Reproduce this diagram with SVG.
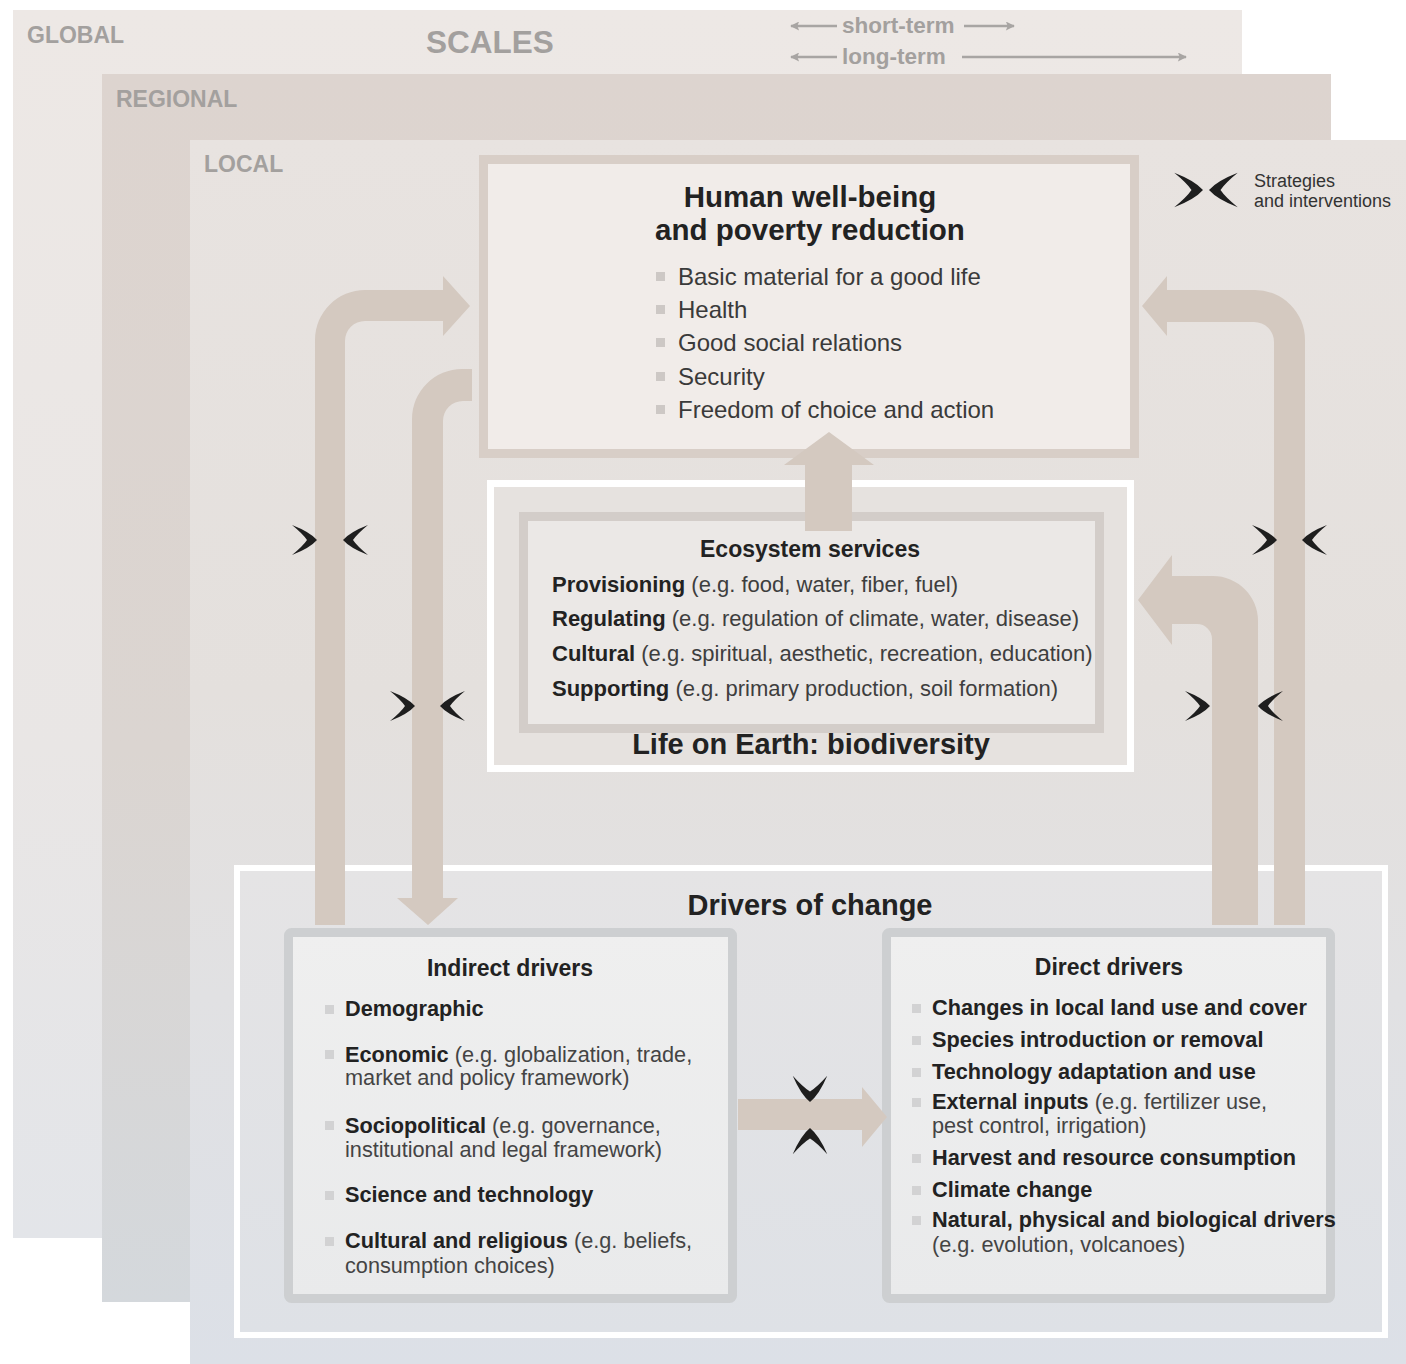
<svg xmlns="http://www.w3.org/2000/svg" width="1406" height="1364" viewBox="0 0 1406 1364">
<defs>
  <linearGradient id="gGlobal" x1="0" y1="0" x2="0" y2="1">
    <stop offset="0" stop-color="#ede8e5"/>
    <stop offset="0.6" stop-color="#e9e6e5"/>
    <stop offset="1" stop-color="#e3e5e9"/>
  </linearGradient>
  <linearGradient id="gRegional" x1="0" y1="0" x2="0" y2="1">
    <stop offset="0" stop-color="#ddd4cf"/>
    <stop offset="0.55" stop-color="#dbd5d1"/>
    <stop offset="1" stop-color="#d4d8dc"/>
  </linearGradient>
  <linearGradient id="gLocal" x1="0" y1="0" x2="0" y2="1">
    <stop offset="0" stop-color="#e8e3e0"/>
    <stop offset="0.45" stop-color="#e4e0dd"/>
    <stop offset="0.7" stop-color="#e1e1e3"/>
    <stop offset="1" stop-color="#dce0e7"/>
  </linearGradient>
  <linearGradient id="gDrivers" x1="0" y1="0" x2="0" y2="1">
    <stop offset="0" stop-color="#e5e4e5"/>
    <stop offset="1" stop-color="#dee1e6"/>
  </linearGradient>
  <linearGradient id="gBox" x1="0" y1="0" x2="0" y2="1">
    <stop offset="0" stop-color="#efefef"/>
    <stop offset="1" stop-color="#e9eaeb"/>
  </linearGradient>
  <path id="chev" d="M -25,-15 Q -7,-8 0,0 Q -7,8 -25,15 Q -14,6 -10,0 Q -14,-6 -25,-15 Z"/>
  <marker id="tip" viewBox="0 0 10 10" refX="9" refY="5" markerWidth="14" markerHeight="9" markerUnits="userSpaceOnUse" orient="auto-start-reverse">
    <path d="M0,0 L10,5 L0,10 L2,5 Z" fill="#a8a5a3"/>
  </marker>
</defs>
<style>
  text { font-family: "Liberation Sans", Arial, sans-serif; }
  .lab { font-weight: bold; fill: #a3a09e; font-size: 23px; }
  .t1 { font-size: 29px; font-weight: bold; fill: #222; text-anchor: middle; }
  .t2 { font-size: 23px; font-weight: bold; fill: #222; text-anchor: middle; }
  .wb { font-size: 24px; fill: #3a3a3a; }
  .es { font-size: 22px; fill: #3e3e3e; }
  .dr { font-size: 21.7px; fill: #444; }
  .b { font-weight: bold; fill: #222; }
  .bulw { fill: #cdc8c5; }
  .buld { fill: #d2d2d3; }
  .arrow { fill: #d4c9c0; }
  .chev { fill: #1e1e1e; }
  .tl { stroke: #a8a5a3; stroke-width: 2.5; fill: none; }
</style>

<g id="scales">
  <rect x="13" y="10" width="1229" height="1228" fill="url(#gGlobal)"/>
  <rect x="102" y="74" width="1229" height="1228" fill="url(#gRegional)"/>
  <rect x="190" y="140" width="1216" height="1224" fill="url(#gLocal)"/>
  <text class="lab" x="27" y="43">GLOBAL</text>
  <text class="lab" x="116" y="107">REGIONAL</text>
  <text class="lab" x="204" y="172">LOCAL</text>
  <text class="lab" x="426" y="53" style="font-size:31.5px">SCALES</text>
</g>

<g id="time-legend">
  <line class="tl" x1="837" y1="26" x2="791" y2="26" marker-end="url(#tip)"/>
  <text class="lab" x="842" y="33" style="font-size:22.5px">short-term</text>
  <line class="tl" x1="964" y1="26" x2="1014" y2="26" marker-end="url(#tip)"/>
  <line class="tl" x1="837" y1="57" x2="791" y2="57" marker-end="url(#tip)"/>
  <text class="lab" x="842" y="64" style="font-size:22.5px">long-term</text>
  <line class="tl" x1="962" y1="57" x2="1186" y2="57" marker-end="url(#tip)"/>
</g>

<g id="legend-strategies">
  <use href="#chev" class="chev" transform="translate(1203,190) scale(1.15)"/>
  <use href="#chev" class="chev" transform="translate(1209,190) scale(-1.15,1.15)"/>
  <text x="1254" y="187" style="font-size:18px" fill="#333">Strategies</text>
  <text x="1254" y="207" style="font-size:18px" fill="#333">and interventions</text>
</g>

<g id="node-wellbeing">
  <rect x="483.5" y="159.5" width="651" height="294" fill="#f1ece9" stroke="#d8cec7" stroke-width="9"/>
  <text class="t1" x="810" y="207" style="font-size:29.5px">Human well-being</text>
  <text class="t1" x="810" y="240" style="font-size:29.5px">and poverty reduction</text>
  <rect class="bulw" x="656" y="272" width="9" height="9"/>
  <text class="wb" x="678" y="285">Basic material for a good life</text>
  <rect class="bulw" x="656" y="305" width="9" height="9"/>
  <text class="wb" x="678" y="318">Health</text>
  <rect class="bulw" x="656" y="338" width="9" height="9"/>
  <text class="wb" x="678" y="351">Good social relations</text>
  <rect class="bulw" x="656" y="372" width="9" height="9"/>
  <text class="wb" x="678" y="385">Security</text>
  <rect class="bulw" x="656" y="405" width="9" height="9"/>
  <text class="wb" x="678" y="418">Freedom of choice and action</text>
</g>

<g id="node-biodiversity">
  <rect x="490.5" y="483.5" width="640" height="285" fill="#e6e2df" stroke="#ffffff" stroke-width="7"/>
  <text class="t1" x="811" y="754">Life on Earth: biodiversity</text>
</g>

<g id="node-ecosystem">
  <rect x="523.5" y="516.5" width="576" height="212" fill="#ebe8e6" stroke="#d3cdc9" stroke-width="9"/>
  <text class="t2" x="810" y="557">Ecosystem services</text>
  <text class="es" x="552" y="592"><tspan class="b">Provisioning</tspan> (e.g. food, water, fiber, fuel)</text>
  <text class="es" x="552" y="626"><tspan class="b">Regulating</tspan> (e.g. regulation of climate, water, disease)</text>
  <text class="es" x="552" y="661"><tspan class="b">Cultural</tspan> (e.g. spiritual, aesthetic, recreation, education)</text>
  <text class="es" x="552" y="696"><tspan class="b">Supporting</tspan> (e.g. primary production, soil formation)</text>
</g>

<g id="node-drivers">
  <rect x="237" y="868" width="1148" height="467" fill="url(#gDrivers)" stroke="#ffffff" stroke-width="6"/>
  <text class="t1" x="810" y="915">Drivers of change</text>
</g>

<g id="node-indirect">
  <rect x="288.5" y="932.5" width="444" height="366" rx="3" fill="url(#gBox)" stroke="#cdcfd1" stroke-width="9"/>
  <text class="t2" x="510" y="976">Indirect drivers</text>
  <rect class="buld" x="325" y="1005" width="9" height="9"/>
  <text class="dr" x="345" y="1016"><tspan class="b">Demographic</tspan></text>
  <rect class="buld" x="325" y="1050" width="9" height="9"/>
  <text class="dr" x="345" y="1062"><tspan class="b">Economic</tspan> (e.g. globalization, trade,</text>
  <text class="dr" x="345" y="1085">market and policy framework)</text>
  <rect class="buld" x="325" y="1121" width="9" height="9"/>
  <text class="dr" x="345" y="1133"><tspan class="b">Sociopolitical</tspan> (e.g. governance,</text>
  <text class="dr" x="345" y="1157">institutional and legal framework)</text>
  <rect class="buld" x="325" y="1191" width="9" height="9"/>
  <text class="dr" x="345" y="1202"><tspan class="b">Science and technology</tspan></text>
  <rect class="buld" x="325" y="1237" width="9" height="9"/>
  <text class="dr" x="345" y="1248"><tspan class="b">Cultural and religious</tspan> (e.g. beliefs,</text>
  <text class="dr" x="345" y="1273">consumption choices)</text>
</g>

<g id="node-direct">
  <rect x="886.5" y="932.5" width="444" height="366" rx="3" fill="url(#gBox)" stroke="#cdcfd1" stroke-width="9"/>
  <text class="t2" x="1109" y="975">Direct drivers</text>
  <rect class="buld" x="912" y="1004" width="9" height="9"/>
  <text class="dr" x="932" y="1015"><tspan class="b">Changes in local land use and cover</tspan></text>
  <rect class="buld" x="912" y="1036" width="9" height="9"/>
  <text class="dr" x="932" y="1047"><tspan class="b">Species introduction or removal</tspan></text>
  <rect class="buld" x="912" y="1068" width="9" height="9"/>
  <text class="dr" x="932" y="1079"><tspan class="b">Technology adaptation and use</tspan></text>
  <rect class="buld" x="912" y="1098" width="9" height="9"/>
  <text class="dr" x="932" y="1109"><tspan class="b">External inputs</tspan> (e.g. fertilizer use,</text>
  <text class="dr" x="932" y="1133">pest control, irrigation)</text>
  <rect class="buld" x="912" y="1154" width="9" height="9"/>
  <text class="dr" x="932" y="1165"><tspan class="b">Harvest and resource consumption</tspan></text>
  <rect class="buld" x="912" y="1186" width="9" height="9"/>
  <text class="dr" x="932" y="1197"><tspan class="b">Climate change</tspan></text>
  <rect class="buld" x="912" y="1216" width="9" height="9"/>
  <text class="dr" x="932" y="1227"><tspan class="b">Natural, physical and biological drivers</tspan></text>
  <text class="dr" x="932" y="1252">(e.g. evolution, volcanoes)</text>
</g>

<g id="connectors">
  <path class="arrow" d="M 315,925 L 315,340 A 50 50 0 0 1 365,290 L 443,290 L 443,276 L 470,306 L 443,336 L 443,321 L 365,321 A 20 20 0 0 0 345,341 L 345,925 Z"/>
  <path class="arrow" d="M 472,369 L 462,369 A 50 50 0 0 0 412,419 L 412,898 L 397,898 L 428,925 L 458,898 L 443,898 L 443,421 A 20 20 0 0 1 463,401 L 472,401 Z"/>
  <path class="arrow" d="M 1305,925 L 1305,340 A 50 50 0 0 0 1255,290 L 1167,290 L 1167,276 L 1142,306 L 1167,336 L 1167,322 L 1254,322 A 20 20 0 0 1 1274,342 L 1274,925 Z"/>
  <path class="arrow" d="M 1258,925 L 1258,621 A 45 45 0 0 0 1213,576 L 1172,576 L 1172,555 L 1138,600 L 1172,645 L 1172,624 L 1197,624 A 15 15 0 0 1 1212,639 L 1212,925 Z"/>
  <path class="arrow" d="M 805,531 L 805,465 L 784,465 L 829,432 L 874,465 L 852,465 L 852,531 Z"/>
  <path class="arrow" d="M 738,1099 L 862,1099 L 862,1087 L 887,1117 L 862,1147 L 862,1130 L 738,1130 Z"/>

  <use href="#chev" class="chev" transform="translate(317,540)"/>
  <use href="#chev" class="chev" transform="translate(343,540) scale(-1,1)"/>
  <use href="#chev" class="chev" transform="translate(415,706)"/>
  <use href="#chev" class="chev" transform="translate(440,706) scale(-1,1)"/>
  <use href="#chev" class="chev" transform="translate(1277,540)"/>
  <use href="#chev" class="chev" transform="translate(1302,540) scale(-1,1)"/>
  <use href="#chev" class="chev" transform="translate(1210,706)"/>
  <use href="#chev" class="chev" transform="translate(1258,706) scale(-1,1)"/>
  <use href="#chev" class="chev" transform="translate(810,1102) rotate(90) scale(1.05,1.15)"/>
  <use href="#chev" class="chev" transform="translate(810,1128) rotate(-90) scale(1.05,1.15)"/>
</g>
</svg>
